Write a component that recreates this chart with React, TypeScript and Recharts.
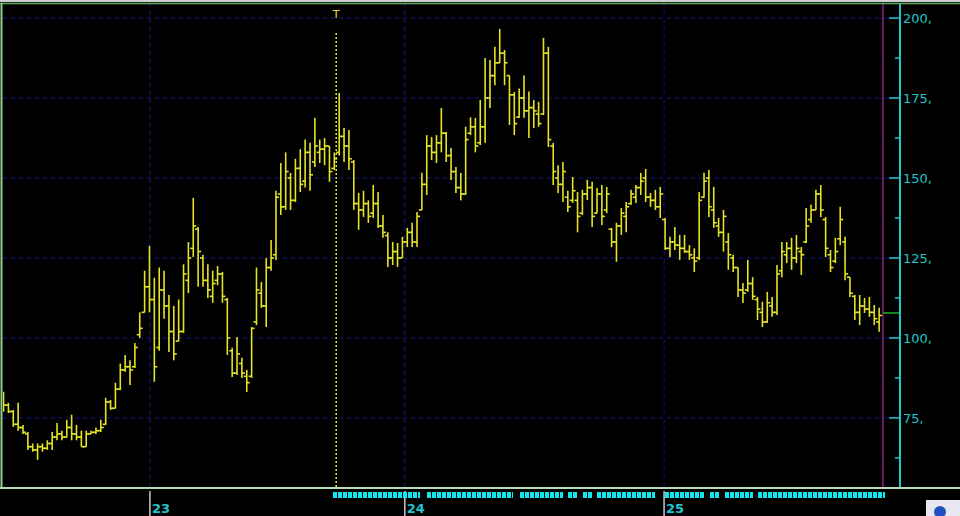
import React from 'react';
import { ComposedChart, Bar, XAxis, YAxis, CartesianGrid, ReferenceLine, ReferenceDot } from 'recharts';

const highs = [
  83.2,79.7,77.5,79.7,72.8,70.6,67,67,67,68,
  70.6,73.4,71,74.4,76,72.8,71,71,71,72,
  74.4,81.3,80.6,86,92,94.7,93,98.4,108,121,
  128.8,118.8,122,121,113.4,110,112,123,130,143.8,
  134.7,126,123,121,122.5,120.6,112.5,96.9,100.3,93.8,
  90,103.4,122,117.5,125,130.6,146,154.7,158,151.6,
  156,159,162,161,168.8,162,162.5,160,158,176.6,
  165.6,165,155.6,145.3,146,143,147.8,145.6,138.4,133,
  130,129.7,131.6,134.4,136,139.4,151.6,163.4,162.8,163.4,
  171.9,164.4,159.4,153.4,151.6,166,169,168.8,174.4,187.5,
  186.9,191,196.6,190,182,176.9,178,182,177,174.4,
  173.8,193.8,191,161,154,155,146,150.3,145.6,146.3,
  149.4,148.8,146.9,147.8,147.2,134.4,136,140.6,142.5,146.3,
  147.8,151.6,152.8,145.3,146.3,147.2,137.5,131.6,134.7,132.2,
  132.2,129,128,145.6,151.6,152.5,147.2,137.5,140,132.8,
  126,122,117.2,124.4,119,112.8,111.3,114.4,112.8,122.8,
  130,130,131.3,132.2,128.4,140.6,141.6,146.3,147.8,137.8,
  127.5,131.3,141,131.6,119,113.4,113.4,112.5,112.8,110.3,
  109.4,
];

const lows = [
  76.9,76.5,72.2,71,70,65,64.4,61.9,64.4,65,
  65,68,68,68.8,68,68,66,66,70,70,
  70.6,72.8,77.5,78,83.7,89.4,85.3,90.6,100,108,
  108,86.3,96,106,95.6,93,99,101.6,114,125.3,
  116,116,112.5,111,116.5,111,94.7,87.8,88.4,87.5,
  83.1,87.5,104,109.4,103.4,121,124.4,138.4,140,140,
  142.5,145.6,147,146,153.4,154.7,154,148.8,152.5,157,
  155,152.5,140,133.8,137.8,136,137.5,134.4,131.3,122.2,
  122.8,122.2,125,128.4,128.4,128.4,140,144.7,155.6,154.7,
  158,155,149.4,145.3,143,144.7,163.4,158,160.3,161,
  171.9,179,186,179,166.6,163.4,168.8,168.8,162.5,165.6,
  166,169.7,159.7,147.8,145.3,142.5,139.4,142.2,133,138.4,
  143.1,134.7,139,135.3,139,128.4,123.8,132.2,133,141.6,
  142.2,144.7,142.5,141,140,137.5,127.5,125.3,127.5,124.4,
  126.6,124.4,120.6,124.4,143.8,137.8,134.4,131.6,127,121.3,
  120.6,112.8,110.9,114.4,111.9,105.6,103.4,104.7,106.6,107.2,
  119,123.4,121.3,123.4,119.7,129.7,136,140,137.8,125.3,
  120.6,123.4,129,118,112.8,105.6,104,107.8,106.6,104,
  101.9,
];

const opens = [
  82,79,77,73,72,70,66,65,66,65.5,
  67,69,70,69,72,70,69,66,70,70.5,
  71,73,80,78,84,90,91,91,101,108,
  116,112,97,115,110,102,99,102,118,128,
  134,125,118,113,118,120,112,96,89,92,
  88,88,105,114,110,122,126,145,141,150,
  143,153,149,158,155,158,159,160,153,158,
  163,160,155,142,140,142,139,142,135,132,
  125,127,125,130,133,130,140,148,160,158,
  161,164,157,152,147,145,164,166,161,166,
  175,182,186,189,182,176,169,175,171,172,
  170,170,189,160,150,148,144,143,143,139,
  145,147,139,145,140,134,130,135,138,142,
  144,147,150,144,143,141,137,128,130,129,
  128,127,125,125,144,150,140,135,133,130,
  125,122,115,115,117,112,108,105,110,108,
  121,126,128,125,127,130,137,140,145,137,
  126,124,131,130,119,113,108,110,109,108,
  105,
];

const closes = [
  79,77,73,72,70.5,66,65,66,65.5,67,
  69,70,69,72,70,69,66,70,70.5,71,
  72,80,78,84,90,91,90,97,103,116,
  112,91,115,110,102,95,102,120,125,135,
  127,118,115,117,120,113,100,89,95,89,
  86,103,115,110,122,125,144,141,152,143,
  153,148,158,151,160,159,160,152,156,163,
  160,156,142,140,142,138,142,135,133,125,
  127,125,130,133,130,138,148,160,158,161,
  164,157,152,147,145,162,166,160,166,175,
  182,186,189,186,176,167,175,171,172,171,
  167,189,162,152,148,152,141,146,138,145,
  147,138,145,138,145,130,135,139,141,145,
  147,149,144,143,141,145,128,130,129,128,
  127,126,124,143,149,141,136,133,138,126,
  122,115,114,117,113,109,105,111,108,120,
  127,128,125,128,126,135,140,145,140,128,
  122,127,137,120,114,108,110,109,108,106,
  107,
];

const yearTicks = [30, 82.4, 135.7];
const yearLabels = ['23', '24', '25'];
const priceTicks = [62.5, 75, 87.5, 100, 112.5, 125, 137.5, 150, 162.5, 175, 187.5, 200];
const majorPriceTicks = [75, 100, 125, 150, 175, 200];
const markerIndex = 68.3;
const markerTop = 195.5;
const lastIndex = 180.7;
const lastPrice = 107.8;
const xDomain = [-0.2, 184.2];
const yDomain = [53.4, 204.7];

const data = highs.map((h, i) => ({
  i,
  range: [lows[i], h],
  high: h,
  low: lows[i],
  open: opens[i],
  close: closes[i],
}));

const YELLOW = '#e4e424';
const CYAN = '#22c4cc';

const OhlcShape = (props: any) => {
  const { x, y, width, height, payload } = props;
  if (x == null || y == null) return null;
  const top = Math.min(y, y + height);
  const hp = Math.abs(height);
  const cx = x + width / 2;
  const span = payload.high - payload.low || 1;
  const yo = top + ((payload.high - payload.open) / span) * hp;
  const yc = top + ((payload.high - payload.close) / span) * hp;
  return (
    <g stroke={YELLOW} strokeWidth={1.6}>
      <line x1={cx} x2={cx} y1={top} y2={top + hp} />
      <line x1={cx - 3} x2={cx} y1={yo} y2={yo} />
      <line x1={cx} x2={cx + 3} y1={yc} y2={yc} />
    </g>
  );
};

const PriceTick = (props: any) => {
  const { x, y, payload } = props;
  const v = payload.value;
  const major = majorPriceTicks.includes(v);
  return (
    <g>
      <line x1={x - (major ? 11 : 5)} x2={x} y1={y} y2={y} stroke={CYAN} strokeWidth={1.5} />
      {major && (
        <text x={x + 3} y={y + 5} fill={CYAN} fontSize={13} fontFamily="DejaVu Sans">
          {`${v},`}
        </text>
      )}
    </g>
  );
};

const YearTick = (props: any) => {
  const { x, y, index } = props;
  return (
    <g>
      <line x1={x} x2={x} y1={y + 4} y2={y + 29} stroke="#c8c8c8" strokeWidth={1.5} />
      <text x={x + 2} y={y + 26} fill={CYAN} fontSize={13} fontFamily="DejaVu Sans" fontWeight="bold">
        {yearLabels[index]}
      </text>
    </g>
  );
};

const TShape = (props: any) => {
  const { cx, cy } = props;
  return (
    <text x={cx} y={cy} textAnchor="middle" fill={YELLOW} fontSize={11} fontFamily="DejaVu Sans">
      T
    </text>
  );
};

const stripSegments = [
  [333, 420], [427, 513], [520, 563], [568, 577], [583, 593], [597, 655],
  [665, 705], [710, 720], [725, 753], [758, 885],
];

export default function App() {
  return (
    <div style={{ position: 'absolute', left: 0, top: 0, width: 960, height: 516, background: '#000', overflow: 'hidden' }}>
      <ComposedChart
        width={960}
        height={516}
        data={data}
        margin={{ top: 3, right: 0, bottom: 0, left: 3 }}
      >
        <CartesianGrid
          horizontalValues={majorPriceTicks}
          verticalValues={yearTicks}
          stroke="#16169a"
          strokeDasharray="4 4"
        />
        <XAxis
          dataKey="i"
          type="number"
          domain={xDomain}
          ticks={yearTicks}
          interval={0}
          tick={<YearTick />}
          tickLine={false}
          axisLine={false}
          tickSize={0}
          tickMargin={0}
          height={29}
          allowDataOverflow
        />
        <YAxis
          orientation="right"
          domain={yDomain}
          ticks={priceTicks}
          interval={0}
          width={60}
          tick={<PriceTick />}
          tickLine={false}
          tickSize={0}
          tickMargin={0}
          axisLine={{ stroke: CYAN, strokeWidth: 2 }}
          allowDataOverflow
        />
        <ReferenceLine
          segment={[{ x: markerIndex, y: yDomain[0] }, { x: markerIndex, y: markerTop }]}
          stroke={YELLOW}
          strokeDasharray="2 2"
          strokeWidth={1.5}
        />
        <ReferenceDot x={markerIndex} y={200} r={0} shape={<TShape />} />
        <ReferenceLine x={lastIndex} stroke="#8c1c8c" strokeWidth={1.5} />
        <ReferenceLine
          segment={[{ x: lastIndex, y: lastPrice }, { x: xDomain[1], y: lastPrice }]}
          stroke="#22b022"
          strokeWidth={1.5}
        />
        <Bar dataKey="range" barSize={4} shape={<OhlcShape />} isAnimationActive={false} />
      </ComposedChart>
      <svg width={960} height={516} style={{ position: 'absolute', left: 0, top: 0, pointerEvents: 'none' }}>
        <rect x={0} y={0} width={960} height={2} fill="#cfcfcf" />
        <line x1={0} x2={960} y1={3.5} y2={3.5} stroke="#5fae5f" strokeWidth={1.5} />
        <line x1={1.5} x2={1.5} y1={3} y2={488} stroke="#8fd08f" strokeWidth={2} />
        <line x1={0} x2={960} y1={488} y2={488} stroke="#b8d8b8" strokeWidth={2} />
        {stripSegments.map(([a, b], k) => (
          <line key={k} x1={a} x2={b} y1={495} y2={495} stroke="#10e8f0" strokeWidth={6} strokeDasharray="4 1" />
        ))}
        <rect x={926} y={500} width={34} height={16} fill="#e8e8f0" />
        <circle cx={940} cy={512} r={6} fill="#2050c0" />
      </svg>
    </div>
  );
}
